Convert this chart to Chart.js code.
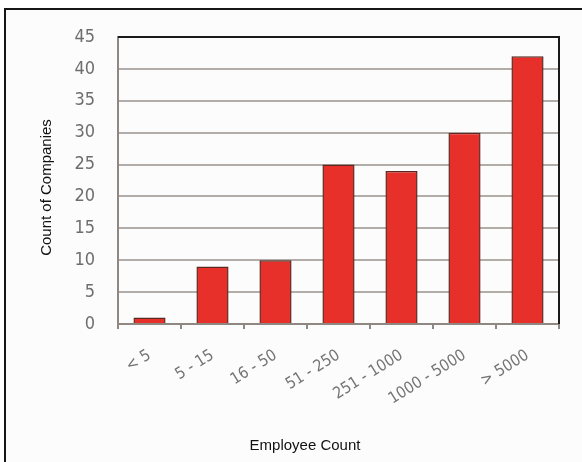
<!DOCTYPE html>
<html lang="en">
<head>
  <meta charset="UTF-8">
  <title>Count of Companies by Employee Count</title>
  <script src="https://cdn.jsdelivr.net/npm/chart.js"></script>
  <style>
    html, body {
      margin: 0;
      padding: 0;
      background: #ffffff;
    }
    #wrap {
      position: relative;
      width: 582px;
      height: 462px;
      overflow: hidden;
    }
    #frame {
      position: absolute;
      left: 4px;
      top: 8px;
      right: -10px;
      bottom: -10px;
      border-top: 2px solid #161616;
      border-left: 2px solid #161616;
      background: #fcfcfc;
    }
    #chart {
      position: absolute;
      left: 0;
      top: 0;
    }
  </style>
</head>
<body>
  <div id="wrap">
    <div id="frame"></div>
    <canvas id="chart" width="582" height="462"></canvas>
  </div>

  <script>
    const categories = ['< 5', '5 - 15', '16 - 50', '51 - 250', '251 - 1000', '1000 - 5000', '> 5000'];
    const companies = [1, 9, 10, 25, 24, 30, 42];
    const yTicks = [0, 5, 10, 15, 20, 25, 30, 35, 40, 45];
    const xTitle = 'Employee Count';
    const yTitle = 'Count of Companies';

    const tickFont = "'Liberation Sans Narrow', 'DejaVu Sans Condensed', 'Liberation Sans', sans-serif";
    const titleFont = "15px 'Liberation Sans', Arial, sans-serif";

    // black line along the top and right of the plot area
    const plotEdge = {
      id: 'plotEdge',
      afterDraw(chart) {
        const { ctx, chartArea: a } = chart;
        ctx.save();
        ctx.strokeStyle = '#1a1a1a';
        ctx.lineWidth = 2;
        ctx.beginPath();
        ctx.moveTo(a.left, a.top);
        ctx.lineTo(a.right, a.top);
        ctx.lineTo(a.right, a.bottom);
        ctx.stroke();
        ctx.restore();
      }
    };

    // axis titles, placed relative to the plot area
    const axisTitles = {
      id: 'axisTitles',
      afterDraw(chart) {
        const { ctx, chartArea: a } = chart;
        ctx.save();
        ctx.fillStyle = '#111111';
        ctx.font = titleFont;
        ctx.textAlign = 'center';
        ctx.textBaseline = 'middle';
        ctx.fillText(xTitle, a.left + 187, a.bottom + 122);
        ctx.translate(a.left - 71, (a.top + a.bottom) / 2 + 7);
        ctx.rotate(-Math.PI / 2);
        ctx.fillText(yTitle, 0, 0);
        ctx.restore();
      }
    };

    const ctx = document.getElementById('chart').getContext('2d');
    const chart = new Chart(ctx, {
      type: 'bar',
      data: {
        labels: categories,
        datasets: [{
          label: yTitle,
          data: companies,
          backgroundColor: '#e8302a',
          borderColor: '#5a2a22',
          borderWidth: 1.5,
          categoryPercentage: 1,
          barPercentage: 0.51
        }]
      },
      options: {
        responsive: false,
        animation: false,
        devicePixelRatio: 1,
        layout: {
          padding: { left: 32, top: 37, right: 23, bottom: 3 }
        },
        plugins: {
          legend: { display: false },
          tooltip: { enabled: false }
        },
        scales: {
          x: {
            afterFit(scale) { scale.height = 135; },
            border: { color: '#8e8782', width: 2 },
            grid: {
              drawOnChartArea: false,
              drawTicks: true,
              tickLength: 5,
              color: '#8e8782',
              lineWidth: 2
            },
            ticks: {
              color: '#747474',
              font: { family: tickFont, size: 16 },
              minRotation: 32,
              maxRotation: 32,
              padding: 17
            }
          },
          y: {
            min: 0,
            max: 45,
            afterFit(scale) { scale.width = 86; },
            afterBuildTicks(scale) {
              scale.ticks = yTicks.map(v => ({ value: v }));
            },
            border: { color: '#8e8782', width: 2 },
            grid: {
              drawTicks: false,
              color: '#b3ada9',
              lineWidth: 2
            },
            ticks: {
              color: '#6e6e6e',
              font: { family: tickFont, size: 18 },
              padding: 23
            }
          }
        }
      },
      plugins: [plotEdge, axisTitles]
    });
  </script>
</body>
</html>
